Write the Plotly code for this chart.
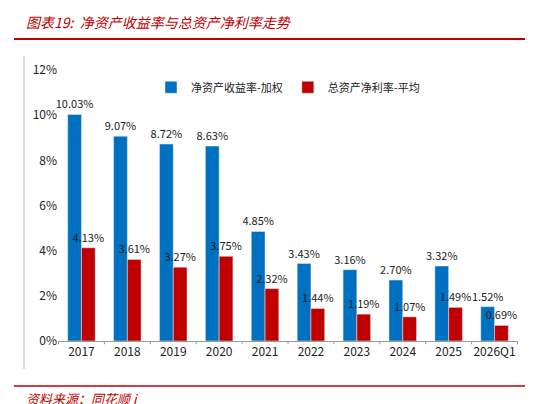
import plotly.graph_objects as go

categories = ["2017","2018","2019","2020","2021","2022","2023","2024","2025","2026Q1"]
roe = [10.03,9.07,8.72,8.63,4.85,3.43,3.16,2.70,3.32,1.52]
roa = [4.13,3.61,3.27,3.75,2.32,1.44,1.19,1.07,1.49,0.69]
y_ticks = [0,2,4,6,8,10,12]

W, H = 533, 404
L, R, T, B = 50, 23, 62, 71
font = "Noto Sans CJK SC"

fig = go.Figure()
fig.add_bar(x=categories, y=roe, name="净资产收益率-加权", marker_color="#0070C0",
            text=[f"{v:.2f}%" for v in roe], textposition="outside", cliponaxis=False,
            constraintext="none", textfont=dict(size=11, color="#222"))
fig.add_bar(x=categories, y=roa, name="总资产净利率-平均", marker_color="#C00000",
            text=[f"{v:.2f}%" for v in roa], textposition="outside", cliponaxis=False,
            constraintext="none", textfont=dict(size=11, color="#222"))

def xp(x): return (x - L) / (W - L - R)
def yp(y): return (H - B - y) / (H - T - B)

fig.update_layout(
    width=W, height=H, margin=dict(l=L, r=R, t=T, b=B, autoexpand=False),
    plot_bgcolor="white", paper_bgcolor="white",
    font=dict(family=font, size=12, color="#222"),
    barmode="group", bargap=0.4, bargroupgap=0,
    showlegend=True,
    legend=dict(orientation="h", x=0.5, xanchor="center", y=0.99, yanchor="top",
                font=dict(size=11), bgcolor="rgba(0,0,0,0)", itemwidth=30),
    xaxis=dict(showline=True, linecolor="#999", ticks="", showgrid=False, tickfont=dict(size=12)),
    yaxis=dict(range=[0, 12], tickvals=y_ticks, ticktext=[f"{v}%" for v in y_ticks],
               showgrid=False, showline=False, zeroline=False, tickfont=dict(size=12)),
    shapes=[
        dict(type="line", xref="paper", yref="paper", x0=xp(6), x1=xp(517), y0=yp(31), y1=yp(31),
             line=dict(color="#C00000", width=2)),
        dict(type="line", xref="paper", yref="paper", x0=xp(6), x1=xp(517), y0=yp(378), y1=yp(378),
             line=dict(color="#C00000", width=1.5)),
        dict(type="line", xref="paper", yref="paper", x0=xp(16), x1=xp(16), y0=yp(48), y1=yp(361),
             line=dict(color="#bbb", width=1)),
    ] + [
        dict(type="line", xref="x", yref="paper", x0=i + 0.5, x1=i + 0.5, y0=0, y1=-0.012,
             line=dict(color="#999", width=1)) for i in range(-1, len(categories))
    ],
    annotations=[
        dict(text="<i>图表19:  净资产收益率与总资产净利率走势</i>", xref="paper", yref="paper",
             x=xp(16), y=yp(14), xanchor="left", yanchor="middle", showarrow=False,
             font=dict(size=14, color="#C00000", family=font)),
        dict(text="<i>资料来源：同花顺 i</i>", xref="paper", yref="paper",
             x=xp(16), y=yp(390), xanchor="left", yanchor="middle", showarrow=False,
             font=dict(size=13, color="#C00000", family=font)),
    ],
)
fig.write_html("out.html")
